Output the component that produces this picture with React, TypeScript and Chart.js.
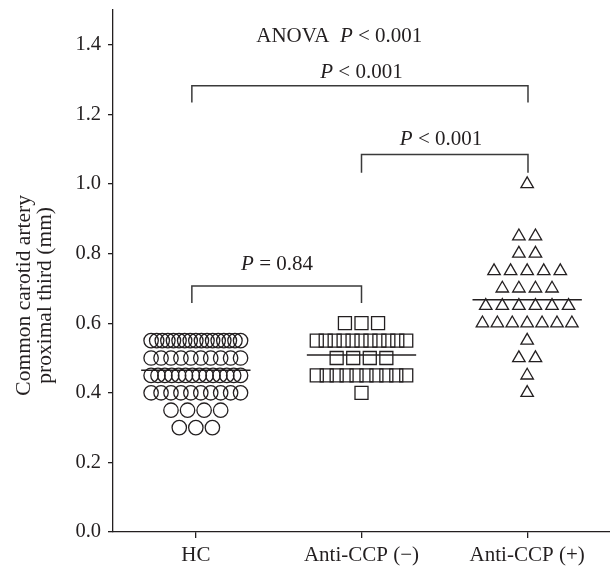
import React, { useEffect, useRef } from 'react';
import { Chart, registerables } from 'chart.js';

Chart.register(...registerables);

const categories = ['HC', 'Anti-CCP (−)', 'Anti-CCP (+)'];

const hcValues = [
  0.55, 0.55, 0.55, 0.55, 0.55, 0.55, 0.55, 0.55, 0.55, 0.55, 0.55, 0.55, 0.55, 0.55, 0.55, 0.55, 0.55,
  0.5, 0.5, 0.5, 0.5, 0.5, 0.5, 0.5, 0.5, 0.5, 0.5,
  0.45, 0.45, 0.45, 0.45, 0.45, 0.45, 0.45, 0.45, 0.45, 0.45, 0.45, 0.45, 0.45, 0.45,
  0.4, 0.4, 0.4, 0.4, 0.4, 0.4, 0.4, 0.4, 0.4, 0.4,
  0.35, 0.35, 0.35, 0.35,
  0.3, 0.3, 0.3,
];

const negValues = [
  0.6, 0.6, 0.6,
  0.55, 0.55, 0.55, 0.55, 0.55, 0.55, 0.55, 0.55, 0.55, 0.55, 0.55,
  0.5, 0.5, 0.5, 0.5,
  0.45, 0.45, 0.45, 0.45, 0.45, 0.45, 0.45, 0.45, 0.45, 0.45,
  0.4,
];

const posValues = [
  1.0,
  0.85, 0.85,
  0.8, 0.8,
  0.75, 0.75, 0.75, 0.75, 0.75,
  0.7, 0.7, 0.7, 0.7,
  0.65, 0.65, 0.65, 0.65, 0.65, 0.65,
  0.6, 0.6, 0.6, 0.6, 0.6, 0.6, 0.6,
  0.55,
  0.5, 0.5,
  0.45,
  0.4,
];

const yTicks = [0, 0.2, 0.4, 0.6, 0.8, 1.0, 1.2, 1.4];

const comparisons = [
  { from: 1, to: 3, p: '< 0.001' },
  { from: 2, to: 3, p: '< 0.001' },
  { from: 1, to: 2, p: '= 0.84' },
];
const anovaText = '< 0.001';

// ---- layout / style constants (not data) ----
const FONT = "'Liberation Serif', 'Times New Roman', Times, serif";
const INK = '#231f20';
const STEP = 0.1;
const MAX_SPAN = 0.54;
const MEAN_HALF = 0.33;
const bracketGeom = [
  { x1: 0.976, x2: 3.005, top: 1.282, drop: 0.048, lx: 2.0, ly: 1.32 },
  { x1: 2.0, x2: 3.005, top: 1.085, drop: 0.053, lx: 2.48, ly: 1.129 },
  { x1: 0.976, x2: 2.0, top: 0.707, drop: 0.049, lx: 1.49, ly: 0.77 },
];
const anovaPos = { x: 1.866, y: 1.425 };
const titlePos = { y: 0.68 };

function layoutGroup(values: number[], center: number) {
  const groups = new Map<number, number>();
  values.forEach((v) => groups.set(v, (groups.get(v) || 0) + 1));
  const pts: { x: number; y: number }[] = [];
  groups.forEach((n, v) => {
    const s = n > 1 ? Math.min(STEP, MAX_SPAN / (n - 1)) : 0;
    for (let i = 0; i < n; i++) pts.push({ x: center + (i - (n - 1) / 2) * s, y: v });
  });
  return pts;
}

const mean = (a: number[]) => a.reduce((s, v) => s + v, 0) / a.length;

function drawRich(ctx: CanvasRenderingContext2D, parts: { t: string; i?: boolean }[], cx: number, cy: number, size: number) {
  const fonts = parts.map((p) => `${p.i ? 'italic ' : ''}${size}px ${FONT}`);
  const widths = parts.map((p, k) => {
    ctx.font = fonts[k];
    return ctx.measureText(p.t).width;
  });
  const total = widths.reduce((a, b) => a + b, 0);
  let x = cx - total / 2;
  ctx.textBaseline = 'middle';
  ctx.textAlign = 'left';
  ctx.fillStyle = INK;
  parts.forEach((p, k) => {
    ctx.font = fonts[k];
    ctx.fillText(p.t, x, cy);
    x += widths[k];
  });
}

const annotationPlugin = {
  id: 'annotations',
  afterDraw(chart: any) {
    const ctx: CanvasRenderingContext2D = chart.ctx;
    const xs = chart.scales.x;
    const ys = chart.scales.y;
    ctx.save();
    ctx.strokeStyle = '#3a3a3a';
    ctx.lineWidth = 1.5;
    comparisons.forEach((c, k) => {
      const g = bracketGeom[k];
      const x1 = xs.getPixelForValue(g.x1);
      const x2 = xs.getPixelForValue(g.x2);
      const yt = ys.getPixelForValue(g.top);
      const yb = ys.getPixelForValue(g.top - g.drop);
      ctx.beginPath();
      ctx.moveTo(x1, yb);
      ctx.lineTo(x1, yt);
      ctx.lineTo(x2, yt);
      ctx.lineTo(x2, yb);
      ctx.stroke();
      drawRich(ctx, [{ t: 'P', i: true }, { t: ' ' + c.p }], xs.getPixelForValue(g.lx), ys.getPixelForValue(g.ly), 21);
    });
    drawRich(
      ctx,
      [{ t: 'ANOVA  ' }, { t: 'P', i: true }, { t: ' ' + anovaText }],
      xs.getPixelForValue(anovaPos.x),
      ys.getPixelForValue(anovaPos.y),
      21
    );
    // y axis title
    const cy = ys.getPixelForValue(titlePos.y);
    ctx.translate(0, cy);
    ctx.rotate(-Math.PI / 2);
    ctx.textAlign = 'center';
    ctx.textBaseline = 'middle';
    ctx.fillStyle = INK;
    ctx.font = `21.5px ${FONT}`;
    ctx.fillText('Common carotid artery', 0, 24);
    ctx.fillText('proximal third (mm)', 0, 45);
    ctx.restore();
  },
};

export default function App() {
  const ref = useRef<HTMLCanvasElement | null>(null);
  useEffect(() => {
    document.body.style.margin = '0';
    const canvas = ref.current;
    if (!canvas) return;
    const groups = [hcValues, negValues, posValues];
    const styles = ['circle', 'rect', 'triangle'];
    const radii = [7.2, 9.2, 7.2];
    const pointSets = groups.map((vals, k) => ({
      label: categories[k],
      data: layoutGroup(vals, k + 1),
      pointStyle: styles[k],
      pointRadius: radii[k],
      pointBorderWidth: 1.3,
      pointBorderColor: INK,
      pointBackgroundColor: 'rgba(0,0,0,0)',
      showLine: false,
      clip: false,
    }));
    const meanSets = groups.map((vals, k) => {
      const m = mean(vals);
      return {
        label: categories[k] + ' mean',
        data: [
          { x: k + 1 - MEAN_HALF, y: m },
          { x: k + 1 + MEAN_HALF, y: m },
        ],
        showLine: true,
        borderColor: INK,
        borderWidth: 1.4,
        pointRadius: 0,
        clip: false,
      };
    });
    const chart = new Chart(canvas, {
      type: 'scatter',
      data: { datasets: [...pointSets, ...meanSets] as any },
      plugins: [annotationPlugin],
      options: {
        animation: false,
        responsive: false,
        devicePixelRatio: 1,
        layout: { autoPadding: false, padding: { top: 10, right: 0, left: 0, bottom: 0 } },
        plugins: { legend: { display: false }, tooltip: { enabled: false } },
        scales: {
          x: {
            type: 'linear',
            min: 0.5,
            max: 3.5,
            afterBuildTicks: (s: any) => {
              s.ticks = [1, 2, 3].map((v) => ({ value: v }));
            },
            afterFit: (s: any) => {
              s.height = 35;
              s.paddingLeft = 0;
              s.paddingRight = 0;
            },
            ticks: {
              callback: (v: any) => categories[Math.round(Number(v)) - 1],
              font: { family: FONT, size: 21 },
              color: INK,
              padding: 5,
              maxRotation: 0,
            },
            grid: { drawOnChartArea: false, tickLength: 6, color: INK, lineWidth: 1.3 },
            border: { color: INK, width: 1.3 },
          },
          y: {
            type: 'linear',
            min: 0,
            max: 1.5,
            afterBuildTicks: (s: any) => {
              s.ticks = yTicks.map((v) => ({ value: v }));
            },
            afterFit: (s: any) => {
              s.width = 113;
              s.paddingTop = 0;
              s.paddingBottom = 0;
            },
            ticks: {
              callback: (v: any) => Number(v).toFixed(1),
              font: { family: FONT, size: 20.5 },
              color: INK,
              padding: 7,
            },
            grid: { drawOnChartArea: false, tickLength: 5, color: INK, lineWidth: 1.3 },
            border: { color: INK, width: 1.3 },
          },
        },
      },
    });
    return () => chart.destroy();
  }, []);
  return <canvas ref={ref} width={610} height={567} style={{ display: 'block' }} />;
}
